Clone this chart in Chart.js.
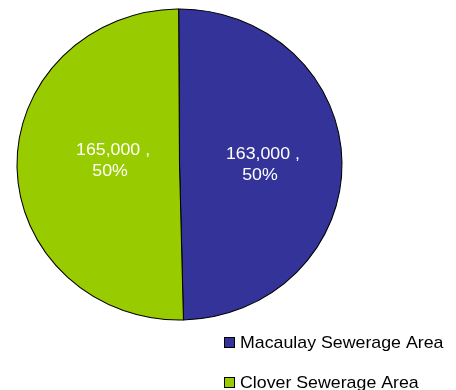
<!DOCTYPE html>
<html>
<head>
<meta charset="utf-8">
<script src="https://cdn.jsdelivr.net/npm/chart.js@4/dist/chart.umd.min.js"></script>
<style>
html,body{margin:0;padding:0;background:#fff;}
#wrap{position:relative;width:456px;height:390px;}
</style>
</head>
<body>
<div id="wrap"><canvas id="c" width="456" height="390"></canvas></div>
<script>
const categories = ["Macaulay Sewerage Area", "Clover Sewerage Area"];
const values = [163000, 165000];
const percentLabels = ["50%", "50%"];
const colors = ["#333399", "#99CC00"];

const SX = 1.045; // horizontal stretch of the reference picture

function stretchedText(ctx, text, x, y, align) {
  ctx.save();
  ctx.translate(x, y);
  ctx.scale(SX, 1);
  ctx.textAlign = align;
  ctx.fillText(text, 0, 0);
  ctx.restore();
}

const ellipse = {
  id: 'ellipse',
  beforeDatasetsDraw(chart) {
    const a = chart.chartArea;
    const cx = (a.left + a.right) / 2;
    chart.ctx.save();
    chart.ctx.translate(cx, 0);
    chart.ctx.scale(SX, 1);
    chart.ctx.translate(-cx, 0);
  },
  afterDatasetsDraw(chart) {
    chart.ctx.restore();
  }
};

const sliceLabels = {
  id: 'sliceLabels',
  afterDatasetsDraw(chart) {
    const ctx = chart.ctx;
    const meta = chart.getDatasetMeta(0);
    ctx.save();
    ctx.font = '17px "Liberation Sans", Arial, sans-serif';
    ctx.fillStyle = '#ffffff';
    ctx.textBaseline = 'middle';
    const factors = [1.015, 0.83];
    const dys = [1, -5];
    meta.data.forEach((arc, i) => {
      const p = arc.getProps(['x','y','startAngle','endAngle','outerRadius'], true);
      const mid = (p.startAngle + p.endAngle) / 2;
      const r = p.outerRadius / 2 * factors[i];
      const cx = p.x + Math.cos(mid) * r * SX;
      const cy = p.y + Math.sin(mid) * r + dys[i];
      const v = values[i].toLocaleString('en-US') + ' ,';
      stretchedText(ctx, v, cx + 1, cy - 10, 'center');
      stretchedText(ctx, percentLabels[i], cx - 2, cy + 11, 'center');
    });
    ctx.restore();
  }
};

const sideLegend = {
  id: 'sideLegend',
  afterDraw(chart) {
    const ctx = chart.ctx;
    ctx.save();
    ctx.font = '17px "Liberation Sans", Arial, sans-serif';
    ctx.textBaseline = 'middle';
    const x0 = 224, y0 = 342, gap = 40;
    chart.data.labels.forEach((lab, i) => {
      const y = y0 + i * gap;
      ctx.fillStyle = chart.data.datasets[0].backgroundColor[i];
      ctx.fillRect(x0 + 0.5, y - 4.5, 10, 10);
      ctx.strokeStyle = '#000';
      ctx.lineWidth = 1;
      ctx.strokeRect(x0 + 0.5, y - 4.5, 10, 10);
      ctx.fillStyle = '#000';
      stretchedText(ctx, lab, x0 + 16, y + 1, 'left');
    });
    ctx.restore();
  }
};

new Chart(document.getElementById('c'), {
  type: 'pie',
  data: {
    labels: categories,
    datasets: [{
      data: values,
      backgroundColor: colors,
      borderColor: '#000000',
      borderWidth: 1
    }]
  },
  options: {
    responsive: false,
    animation: false,
    rotation: -0.3,
    layout: { padding: { left: 23.5, right: 120.5, top: 8.5, bottom: 69.5 } },
    plugins: {
      legend: { display: false },
      tooltip: { enabled: false }
    }
  },
  plugins: [ellipse, sliceLabels, sideLegend]
});
</script>
</body>
</html>
